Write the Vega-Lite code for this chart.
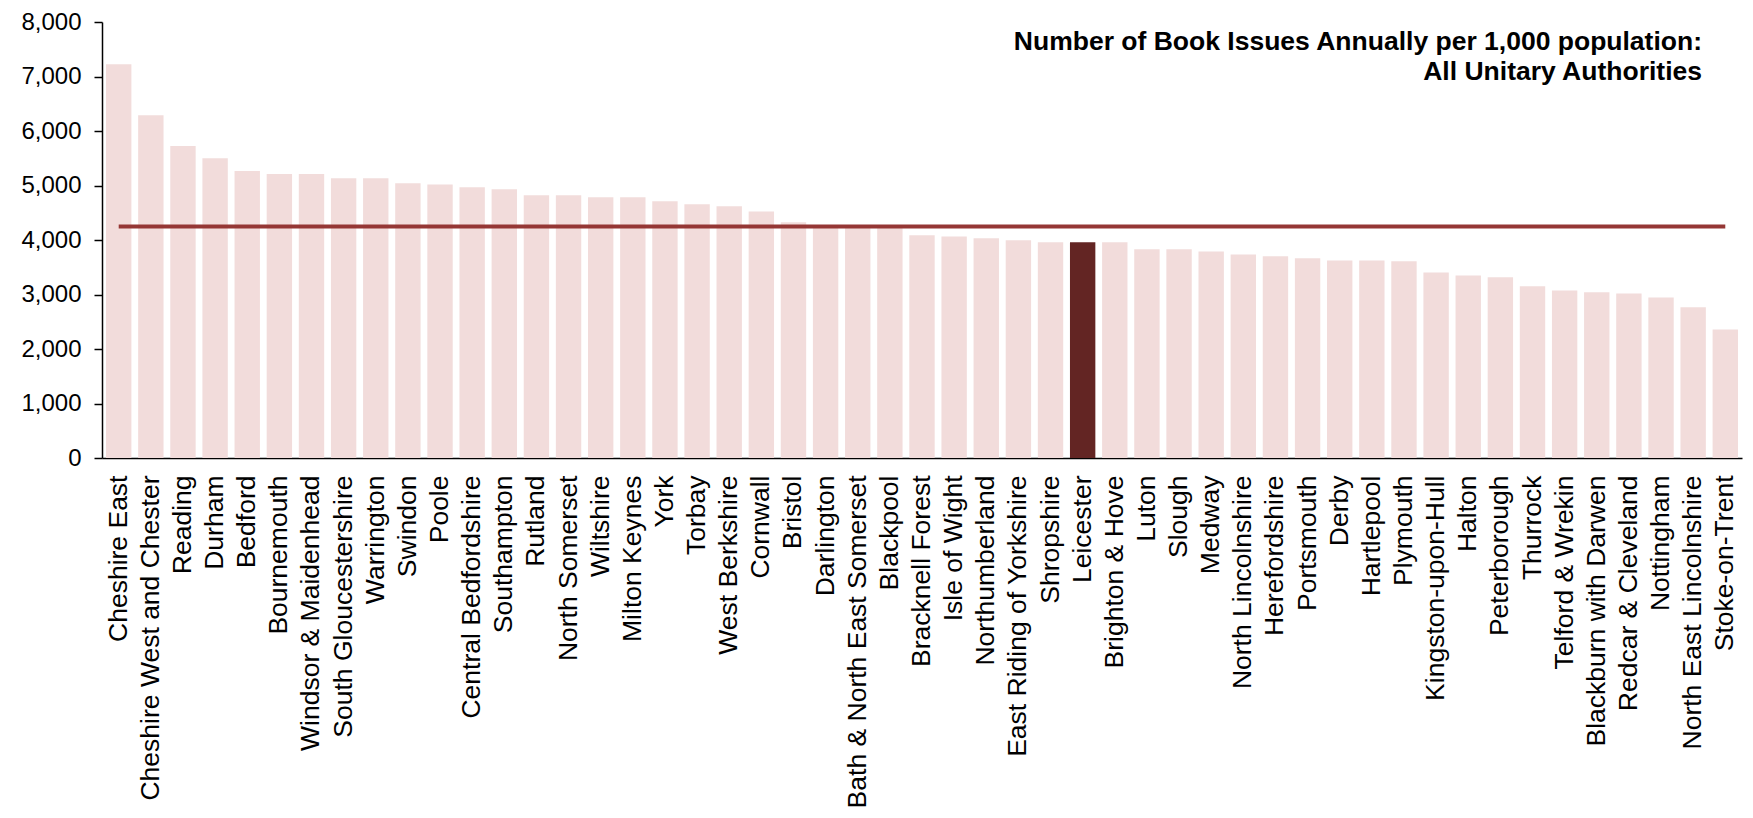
{
  "$schema": "https://vega.github.io/schema/vega-lite/v6.json",
  "width": 1640,
  "height": 436,
  "autosize": {"type": "none"},
  "padding": {"left": 102, "top": 22, "right": 11, "bottom": 360},
  "background": "white",
  "config": {"view": {"stroke": null}, "font": "Liberation Sans"},
  "title": {
    "text": ["Number of Book Issues Annually per 1,000 population:", "All Unitary Authorities"],
    "anchor": "end",
    "orient": "top",
    "frame": "group",
    "offset": -75,
    "dx": -40,
    "fontSize": 26.5,
    "fontWeight": "bold",
    "font": "Liberation Sans",
    "lineHeight": 30,
    "color": "#000000"
  },
  "data": {
    "values": [
      {"authority": "Cheshire East", "issues": 7225, "average": 4250},
      {"authority": "Cheshire West and Chester", "issues": 6290, "average": 4250},
      {"authority": "Reading", "issues": 5725, "average": 4250},
      {"authority": "Durham", "issues": 5500, "average": 4250},
      {"authority": "Bedford", "issues": 5265, "average": 4250},
      {"authority": "Bournemouth", "issues": 5210, "average": 4250},
      {"authority": "Windsor & Maidenhead", "issues": 5210, "average": 4250},
      {"authority": "South Gloucestershire", "issues": 5135, "average": 4250},
      {"authority": "Warrington", "issues": 5135, "average": 4250},
      {"authority": "Swindon", "issues": 5040, "average": 4250},
      {"authority": "Poole", "issues": 5020, "average": 4250},
      {"authority": "Central Bedfordshire", "issues": 4970, "average": 4250},
      {"authority": "Southampton", "issues": 4930, "average": 4250},
      {"authority": "Rutland", "issues": 4820, "average": 4250},
      {"authority": "North Somerset", "issues": 4820, "average": 4250},
      {"authority": "Wiltshire", "issues": 4785, "average": 4250},
      {"authority": "Milton Keynes", "issues": 4785, "average": 4250},
      {"authority": "York", "issues": 4710, "average": 4250},
      {"authority": "Torbay", "issues": 4655, "average": 4250},
      {"authority": "West Berkshire", "issues": 4620, "average": 4250},
      {"authority": "Cornwall", "issues": 4525, "average": 4250},
      {"authority": "Bristol", "issues": 4325, "average": 4250},
      {"authority": "Darlington", "issues": 4260, "average": 4250},
      {"authority": "Bath & North East Somerset", "issues": 4250, "average": 4250},
      {"authority": "Blackpool", "issues": 4240, "average": 4250},
      {"authority": "Bracknell Forest", "issues": 4085, "average": 4250},
      {"authority": "Isle of Wight", "issues": 4065, "average": 4250},
      {"authority": "Northumberland", "issues": 4030, "average": 4250},
      {"authority": "East Riding of Yorkshire", "issues": 3995, "average": 4250},
      {"authority": "Shropshire", "issues": 3960, "average": 4250},
      {"authority": "Leicester", "issues": 3960, "average": 4250},
      {"authority": "Brighton & Hove", "issues": 3960, "average": 4250},
      {"authority": "Luton", "issues": 3830, "average": 4250},
      {"authority": "Slough", "issues": 3830, "average": 4250},
      {"authority": "Medway", "issues": 3790, "average": 4250},
      {"authority": "North Lincolnshire", "issues": 3735, "average": 4250},
      {"authority": "Herefordshire", "issues": 3700, "average": 4250},
      {"authority": "Portsmouth", "issues": 3665, "average": 4250},
      {"authority": "Derby", "issues": 3625, "average": 4250},
      {"authority": "Hartlepool", "issues": 3625, "average": 4250},
      {"authority": "Plymouth", "issues": 3610, "average": 4250},
      {"authority": "Kingston-upon-Hull", "issues": 3405, "average": 4250},
      {"authority": "Halton", "issues": 3350, "average": 4250},
      {"authority": "Peterborough", "issues": 3315, "average": 4250},
      {"authority": "Thurrock", "issues": 3150, "average": 4250},
      {"authority": "Telford & Wrekin", "issues": 3075, "average": 4250},
      {"authority": "Blackburn with Darwen", "issues": 3040, "average": 4250},
      {"authority": "Redcar & Cleveland", "issues": 3020, "average": 4250},
      {"authority": "Nottingham", "issues": 2945, "average": 4250},
      {"authority": "North East Lincolnshire", "issues": 2765, "average": 4250},
      {"authority": "Stoke-on-Trent", "issues": 2360, "average": 4250}
    ]
  },
  "encoding": {
    "x": {
      "field": "authority",
      "type": "nominal",
      "sort": null,
      "scale": {"paddingInner": 0.21, "paddingOuter": 0.125},
      "axis": {
        "title": null,
        "labelAngle": -90,
        "labelFontSize": 26.5,
        "labelFont": "Liberation Sans",
        "labelColor": "#000000",
        "labelPadding": 17,
        "labelLimit": 500,
        "labelOverlap": false,
        "ticks": false,
        "domainColor": "#000000",
        "domainWidth": 1.5
      }
    }
  },
  "layer": [
    {
      "mark": {"type": "bar"},
      "encoding": {
        "y": {
          "field": "issues",
          "type": "quantitative",
          "title": null,
          "scale": {"domain": [0, 8000], "nice": false},
          "axis": {
            "title": null,
            "values": [0, 1000, 2000, 3000, 4000, 5000, 6000, 7000, 8000],
            "format": ",.0f",
            "grid": false,
            "labelFontSize": 24,
            "labelFont": "Liberation Sans",
            "labelColor": "#000000",
            "labelPadding": 13,
            "tickSize": 8,
            "tickColor": "#000000",
            "tickWidth": 1.5,
            "domainColor": "#000000",
            "domainWidth": 1.5
          }
        },
        "color": {
          "condition": {"test": "datum.authority === 'Leicester'", "value": "#632523"},
          "value": "#F2DCDB"
        }
      }
    },
    {
      "mark": {"type": "line", "color": "#953735", "strokeWidth": 4},
      "encoding": {
        "y": {
          "field": "average",
          "type": "quantitative",
          "title": null,
          "axis": {
            "title": null,
            "values": [0, 1000, 2000, 3000, 4000, 5000, 6000, 7000, 8000],
            "format": ",.0f",
            "grid": false,
            "labelFontSize": 24,
            "labelFont": "Liberation Sans",
            "labelColor": "#000000",
            "labelPadding": 13,
            "tickSize": 8,
            "tickColor": "#000000",
            "tickWidth": 1.5,
            "domainColor": "#000000",
            "domainWidth": 1.5
          }
        }
      }
    }
  ]
}
